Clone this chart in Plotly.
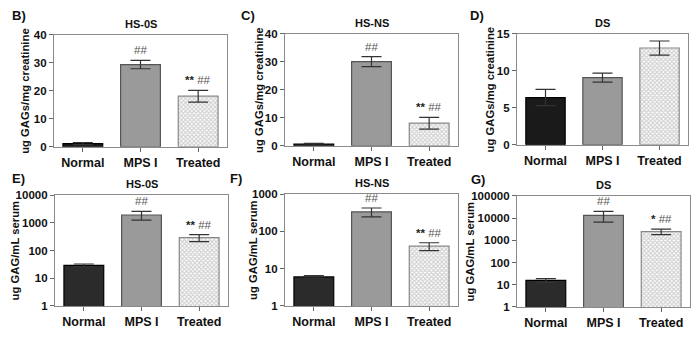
import numpy as np
import plotly.graph_objects as go

categories = ["Normal", "MPS I", "Treated"]

b_mean = [1.15, 29.4, 18.1]
b_err = [0.35, 1.5, 2.1]
c_mean = [0.58, 30.1, 8.1]
c_err = [0.3, 1.8, 2.1]
d_mean = [6.4, 9.1, 13.1]
d_err = [1.1, 0.6, 0.95]
e_mean = [29, 1900, 290]
e_err = [3.5, 650, 80]
f_mean = [6.0, 333, 40]
f_err = [0.5, 90, 9.5]
g_mean = [15.7, 13400, 2500]
g_err = [3, 6700, 700]

panels = [
    dict(label="B)", title="HS-0S", mean=b_mean, err=b_err, log=False, rng=[0, 40], tickvals=[0, 10, 20, 30, 40],
         ytitle="ug GAGs/mg creatinine", marks=["", "##", "**"]),
    dict(label="C)", title="HS-NS", mean=c_mean, err=c_err, log=False, rng=[0, 40], tickvals=[0, 10, 20, 30, 40],
         ytitle="ug GAGs/mg creatinine", marks=["", "##", "**"]),
    dict(label="D)", title="DS", mean=d_mean, err=d_err, log=False, rng=[0, 15], tickvals=[0, 5, 10, 15],
         ytitle="ug GAGs/mg creatinine", marks=["", "", ""]),
    dict(label="E)", title="HS-0S", mean=e_mean, err=e_err, log=True, rng=[0, 4], tickvals=[1, 10, 100, 1000, 10000],
         ytitle="ug GAG/mL serum", marks=["", "##", "**"]),
    dict(label="F)", title="HS-NS", mean=f_mean, err=f_err, log=True, rng=[0, 3], tickvals=[1, 10, 100, 1000],
         ytitle="ug GAG/mL serum", marks=["", "##", "**"]),
    dict(label="G)", title="DS", mean=g_mean, err=g_err, log=True, rng=[0, 5], tickvals=[1, 10, 100, 1000, 10000, 100000],
         ytitle="ug GAG/mL serum", marks=["", "##", "*"]),
]

W, H = 700, 337
# pixel boxes: (x0, x1, y0, y1)
boxes = [
    (54, 227, 30, 146), (285, 458, 29, 145), (517, 688, 29, 144),
    (55, 228, 196, 311), (285, 458, 195, 311), (517, 690, 197, 312),
]
label_pos = [(19, 10), (248, 10), (477, 10), (18, 179), (236, 179), (478, 180)]
ytitle_x = [25, 259, 490, 15, 253, 470]

FONT = "Liberation Sans, Arial, sans-serif"
fills = ["#1a1a1a", "#9a9a9a", "#d0d0d0"]
lines = ["#000000", "#555555", "#888888"]
fills_bottom = ["#2b2b2b", "#9a9a9a", "#d0d0d0"]

fig = go.Figure()
annotations = []
layout = {}

for i, p in enumerate(panels):
    n = i + 1
    xa = "xaxis" if n == 1 else f"xaxis{n}"
    ya = "yaxis" if n == 1 else f"yaxis{n}"
    xref = "x" if n == 1 else f"x{n}"
    yref = "y" if n == 1 else f"y{n}"
    x0, x1, y0, y1 = boxes[i]
    fc = fills if i < 3 else fills_bottom
    fig.add_trace(go.Bar(
        x=categories, y=p["mean"], xaxis=xref, yaxis=yref, width=0.69,
        marker=dict(color=fc, line=dict(color=lines, width=1.2),
                    pattern=dict(shape=["", "", "x"], size=3, solidity=0.6,
                                 fgcolor="#999999", bgcolor="#dcdcdc", fillmode="replace")),
        error_y=dict(type="data", array=p["err"], visible=True, color="#333333", thickness=1.2, width=10),
        showlegend=False, hoverinfo="skip",
    ))
    layout[xa] = dict(domain=[x0 / W, x1 / W], anchor=yref, showline=True, mirror=True, linecolor="#8a8a8a",
                      linewidth=1.2, ticks="outside", ticklen=4, tickcolor="#666", range=[-0.5, 2.5],
                      tickfont=dict(family=FONT, size=12.5, color="#111"), showgrid=False, fixedrange=True)
    yl = dict(domain=[1 - y1 / H, 1 - y0 / H], anchor=xref, showline=True, mirror=True, linecolor="#8a8a8a",
              linewidth=1.2, ticks="outside", ticklen=4, tickcolor="#666", showgrid=False, zeroline=False,
              tickfont=dict(family=FONT, size=11.5, color="#111"), tickvals=p["tickvals"],
              ticktext=[f"<b>{v}</b>" for v in p["tickvals"]], range=p["rng"])
    if p["log"]:
        yl["type"] = "log"
    layout[ya] = yl
    layout[xa]["tickvals"] = categories
    layout[xa]["ticktext"] = [f"<b>{c}</b>" for c in categories]

    # panel label
    lx, ly = label_pos[i]
    annotations.append(dict(text=f"<b>{p['label']}</b>", x=lx / W, y=1 - ly / H, xref="paper", yref="paper",
                            showarrow=False, font=dict(family=FONT, size=13, color="#111"),
                            xanchor="center", yanchor="middle"))
    # title
    annotations.append(dict(text=f"<b>{p['title']}</b>", x=(x0 + x1) / 2 / W, y=1 - (y0 - 11) / H,
                            xref="paper", yref="paper", showarrow=False,
                            font=dict(family=FONT, size=11, color="#111"), xanchor="center", yanchor="middle"))
    # y title
    annotations.append(dict(text=f"<b>{p['ytitle']}</b>", x=ytitle_x[i] / W, y=1 - (y0 + y1) / 2 / H,
                            xref="paper", yref="paper", showarrow=False, textangle=-90,
                            font=dict(family=FONT, size=11.3, color="#111"), xanchor="center", yanchor="middle"))
    # significance marks
    for j, m in enumerate(p["marks"]):
        if not m:
            continue
        top = p["mean"][j] + p["err"][j]
        yv = np.log10(top) if p["log"] else top
        if m == "##":
            txt = "<span style='color:#555'>##</span>"
        else:
            txt = f"<b>{m}</b> <span style='color:#555'>##</span>"
        annotations.append(dict(text=txt, x=categories[j], y=yv, xref=xref, yref=yref, showarrow=False,
                                yshift=10, font=dict(family=FONT, size=11.5, color="#222"),
                                xanchor="center", yanchor="middle"))

fig.update_layout(width=W, height=H, margin=dict(l=0, r=0, t=0, b=0), plot_bgcolor="white",
                  paper_bgcolor="white", annotations=annotations, bargap=0.3, **layout)
fig.write_html("out.html")
